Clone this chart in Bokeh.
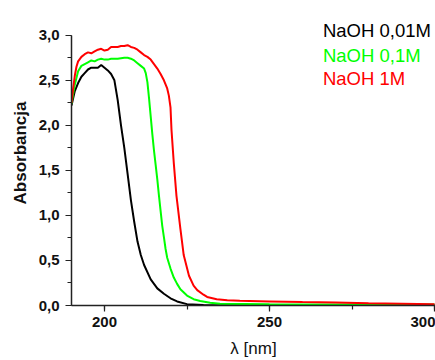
from bokeh.plotting import figure
from bokeh.models import Label, SingleIntervalTicker, CustomJSTickFormatter, Range1d
from bokeh.embed import file_html
from bokeh.resources import INLINE

# --- data ---
wl_001 = [190, 190.5, 191, 192, 193, 194, 195, 196, 197, 198, 199, 200, 201, 202,
          203, 204, 205, 206, 207, 208, 209, 210, 211, 212, 214, 216, 218, 220,
          222, 225, 230, 240, 260, 280, 300]
abs_001 = [2.22, 2.30, 2.38, 2.47, 2.54, 2.58, 2.62, 2.64, 2.64, 2.64, 2.67, 2.64, 2.61, 2.57,
           2.50, 2.28, 2.00, 1.75, 1.46, 1.17, 0.93, 0.71, 0.56, 0.45, 0.29, 0.19, 0.13, 0.08,
           0.045, 0.015, 0.005, 0.003, 0.002, 0.002, 0.002]

wl_01 = [190, 190.5, 191, 192, 193, 194, 195, 196, 197, 198, 199, 200, 201, 202, 204,
         206, 207, 208, 209, 210, 211, 212, 212.5, 213, 213.5, 214, 214.5, 215, 215.5,
         216, 216.5, 217, 217.5, 218, 218.5, 219, 220, 221, 222, 223, 225, 227, 229,
         232, 235, 250, 270, 300]
abs_01 = [2.24, 2.35, 2.45, 2.60, 2.66, 2.68, 2.70, 2.72, 2.71, 2.73, 2.74, 2.73, 2.73, 2.74, 2.74,
          2.75, 2.75, 2.74, 2.72, 2.69, 2.66, 2.63, 2.58, 2.48, 2.30, 2.10, 1.90, 1.72, 1.56,
          1.40, 1.22, 1.05, 0.885, 0.76, 0.63, 0.53, 0.41, 0.31, 0.24, 0.18, 0.11, 0.07, 0.05,
          0.03, 0.02, 0.015, 0.012, 0.01]

wl_1 = [190, 190.5, 191, 191.5, 192, 193, 194, 195, 196, 197, 198, 199, 200, 201, 202,
        203, 204, 205, 206, 207, 208, 209, 210, 211, 212, 213, 214, 215, 216, 217, 218,
        219, 219.5, 220, 220.3, 221, 221.8, 223, 224, 225.6, 227, 228.1, 230, 231.1,
        234, 237.2, 241, 250, 260, 270, 280, 290, 300]
abs_1 = [2.25, 2.41, 2.55, 2.65, 2.71, 2.76, 2.79, 2.81, 2.80, 2.82, 2.84, 2.85, 2.83, 2.84, 2.87,
         2.87, 2.87, 2.88, 2.88, 2.89, 2.87, 2.86, 2.84, 2.81, 2.78, 2.76, 2.73, 2.68, 2.63, 2.57, 2.50,
         2.41, 2.33, 2.20, 1.95, 1.58, 1.22, 0.85, 0.56, 0.33, 0.22, 0.17, 0.12, 0.095,
         0.07, 0.058, 0.052, 0.045, 0.038, 0.032, 0.025, 0.02, 0.015]

series_names = ["NaOH 0,01M", "NaOH 0,1M", "NaOH 1M"]
series_colors = ["#000000", "#00FF00", "#FF0000"]

x_label = "λ [nm]"
y_label = "Absorbancja"

# frame reaches the top of the canvas; the y axis itself is bounded to 0..3
p = figure(width=435, height=360, output_backend="svg", toolbar_location=None,
           x_range=Range1d(190, 300.3), y_range=Range1d(0, 3.386),
           min_border_left=71, min_border_right=0, min_border_top=0, min_border_bottom=53)
p.outline_line_color = None
p.xgrid.visible = False
p.ygrid.visible = False
p.background_fill_color = "white"
p.border_fill_color = "white"

for xs, ys, c in zip([wl_001, wl_01, wl_1], [abs_001, abs_01, abs_1], series_colors):
    p.line(xs, ys, line_color=c, line_width=2)

font = "Liberation Sans"
p.xaxis.ticker = SingleIntervalTicker(interval=50, num_minor_ticks=2)
p.yaxis.ticker = SingleIntervalTicker(interval=0.5, num_minor_ticks=2)
p.yaxis.bounds = (0, 3.0)
p.yaxis.formatter = CustomJSTickFormatter(code="return tick.toFixed(1).replace('.', ',');")
p.xaxis.formatter = CustomJSTickFormatter(code="return tick.toFixed(0);")

for ax in (p.xaxis[0], p.yaxis[0]):
    ax.axis_line_color = "#222222"
    ax.axis_line_width = 1.5
    ax.major_tick_line_color = "#222222"
    ax.minor_tick_line_color = "#222222"
    ax.major_tick_line_width = 1.2
    ax.minor_tick_line_width = 1.2
    ax.major_tick_in = 0
    ax.major_tick_out = 6
    ax.minor_tick_in = 0
    ax.minor_tick_out = 4
    ax.major_label_text_font = font
    ax.major_label_text_font_style = "bold"
    ax.major_label_text_font_size = "15px"
    ax.major_label_text_color = "#111111"
    ax.axis_label_text_font = font
    ax.axis_label_text_font_size = "17px"
    ax.axis_label_text_color = "#111111"

p.xaxis.axis_label = x_label
p.xaxis.axis_label_text_font_style = "normal"
p.xaxis.major_label_standoff = 5
p.xaxis.axis_label_standoff = 9
p.yaxis.axis_label = y_label
p.yaxis.axis_label_text_font_style = "bold"
p.yaxis.major_label_standoff = 6
p.yaxis.axis_label_standoff = 6

# legend text baselines (data units)
label_x = 266.2
label_y = [3.055, 2.779, 2.522]
for name, c, yv in zip(series_names, series_colors, label_y):
    p.add_layout(Label(x=label_x, y=yv, text=name, text_color=c, text_font=font,
                       text_font_size="18.5px", text_align="left", text_baseline="alphabetic"))

open("out.html", "w").write(file_html(p, INLINE))
